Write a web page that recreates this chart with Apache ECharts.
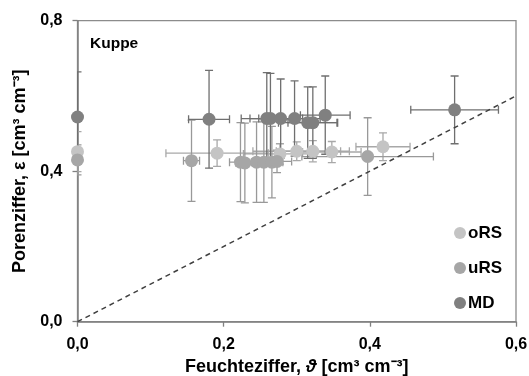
<!DOCTYPE html>
<html>
<head>
<meta charset="utf-8">
<script src="https://cdn.jsdelivr.net/npm/echarts@6/dist/echarts.min.js"></script>
<style>
  html, body { margin: 0; padding: 0; background: #fff; }
  #chart { width: 529px; height: 376px; }
</style>
</head>
<body>
<div id="chart"></div>
<script>
// oRS
var orsX = [0, 0.191, 0.277, 0.300, 0.322, 0.348, 0.418]
var orsY = [0.452, 0.448, 0.446, 0.453, 0.453, 0.451, 0.465]
var orsXErr = [0, 0.07, 0.05, 0.06, 0.05, 0.04, 0.037]
var orsYErr = [0.053, 0.035, 0.027, 0.025, 0.028, 0.028, 0.037]

// uRS
var ursX = [0, 0.156, 0.223, 0.229, 0.245, 0.255, 0.266, 0.273, 0.397]
var ursY = [0.430, 0.428, 0.424, 0.422, 0.424, 0.424, 0.424, 0.426, 0.439]
var ursXErr = [0, 0.011, 0.015, 0.012, 0.015, 0.012, 0.015, 0.02, 0.09]
var ursYErr = [0.04, 0.108, 0.105, 0.106, 0.107, 0.107, 0.095, 0.03, 0.103]

// MD
var mdX = [0, 0.180, 0.259, 0.264, 0.278, 0.297, 0.315, 0.322, 0.339, 0.516]
var mdY = [0.544, 0.538, 0.540, 0.540, 0.540, 0.540, 0.529, 0.529, 0.549, 0.563]
var mdXErr = [0, 0.028, 0.023, 0.04, 0.03, 0.035, 0.04, 0.034, 0.034, 0.06]
var mdYErr = [0.12, 0.13, 0.122, 0.12, 0.105, 0.10, 0.095, 0.095, 0.104, 0.09]

var xTicks = [0, 0.2, 0.4, 0.6]
var yTicks = [0, 0.4, 0.8]
var oneToOne = [[0, 0], [0.6, 0.6]]

var font = "'Liberation Sans', Arial, sans-serif"
var fmt = function (v) { return v.toFixed(1).replace('.', ',') }

var rows = function (xs, ys, xe, ye) {
  return xs.map(function (x, i) { return [x, ys[i], xe[i], ye[i]] })
}

// Fehlerbalken als custom series
var errSeries = function (name, data, color) {
  return {
    name: name,
    type: 'custom',
    clip: true,
    z: 1,
    encode: { x: 0, y: 1 },
    data: data,
    renderItem: function (params, api) {
      var x = api.value(0), y = api.value(1), dx = api.value(2), dy = api.value(3)
      var l = api.coord([x - dx, y]), r = api.coord([x + dx, y])
      var t = api.coord([x, y + dy]), b = api.coord([x, y - dy])
      var c = 4
      var st = { stroke: color, lineWidth: 1.3 }
      var kids = []
      if (dx > 0) {
        kids.push({ type: 'line', shape: { x1: l[0], y1: l[1], x2: r[0], y2: r[1] }, style: st })
        kids.push({ type: 'line', shape: { x1: l[0], y1: l[1] - c, x2: l[0], y2: l[1] + c }, style: st })
        kids.push({ type: 'line', shape: { x1: r[0], y1: r[1] - c, x2: r[0], y2: r[1] + c }, style: st })
      }
      if (dy > 0) {
        kids.push({ type: 'line', shape: { x1: t[0], y1: t[1], x2: b[0], y2: b[1] }, style: st })
        kids.push({ type: 'line', shape: { x1: t[0] - c, y1: t[1], x2: t[0] + c, y2: t[1] }, style: st })
        kids.push({ type: 'line', shape: { x1: b[0] - c, y1: b[1], x2: b[0] + c, y2: b[1] }, style: st })
      }
      return { type: 'group', children: kids }
    }
  }
}

var pts = function (name, xs, ys, color) {
  return {
    name: name,
    type: 'scatter',
    symbol: 'circle',
    symbolSize: 13,
    z: 3,
    itemStyle: { color: color, opacity: 1 },
    data: xs.map(function (x, i) { return [x, ys[i]] })
  }
}

var chart = echarts.init(document.getElementById('chart'))

chart.setOption({
  animation: false,
  textStyle: { fontFamily: font },
  title: {
    text: 'Kuppe',
    left: 85,
    top: 31,
    textStyle: { fontFamily: font, fontSize: 15.5, fontWeight: 'bold', color: '#000' }
  },
  legend: {
    data: ['oRS', 'uRS', 'MD'],
    orient: 'vertical',
    left: 449,
    top: 219,
    icon: 'circle',
    itemWidth: 12,
    itemHeight: 12,
    itemGap: 17,
    textStyle: { fontFamily: font, fontSize: 17, fontWeight: 'bold', color: '#000', lineHeight: 18, padding: [0, 0, 0, -3] }
  },
  grid: {
    left: 77.5,
    right: 13,
    top: 20.7,
    bottom: 54.3,
    outerBoundsMode: 'none',
    containLabel: false,
    show: true,
    borderColor: '#8c8c8c',
    borderWidth: 1.3
  },
  xAxis: {
    type: 'value',
    min: 0,
    max: 0.6,
    interval: 0.2,
    name: '{b|Feuchteziffer, }{i|ϑ}{b| [cm³ cm⁻³]}',
    nameLocation: 'middle',
    nameGap: 30,
    nameTextStyle: {
      rich: {
        b: { fontFamily: font, fontSize: 18, fontWeight: 'bold', color: '#000' },
        i: { fontFamily: font, fontSize: 18, fontWeight: 'bold', fontStyle: 'italic', color: '#000' }
      }
    },
    axisLine: { lineStyle: { color: '#808080', width: 1.5 } },
    axisTick: { inside: false, length: 5, lineStyle: { color: '#808080', width: 1.3 } },
    axisLabel: {
      margin: 15,
      fontFamily: font, fontSize: 16, fontWeight: 'bold', color: '#000',
      formatter: function (v) { return xTicks.indexOf(+v.toFixed(1)) >= 0 ? fmt(v) : '' }
    },
    splitLine: { show: false }
  },
  yAxis: {
    type: 'value',
    min: 0,
    max: 0.8,
    interval: 0.4,
    name: '{b|Porenziffer, ε [cm³ cm⁻³]}',
    nameLocation: 'middle',
    nameGap: 44,
    nameTextStyle: {
      rich: {
        b: { fontFamily: font, fontSize: 18, fontWeight: 'bold', color: '#000' }
      }
    },
    axisLine: { lineStyle: { color: '#808080', width: 1.5 } },
    axisTick: { inside: false, length: 5, lineStyle: { color: '#808080', width: 1.3 } },
    axisLabel: {
      margin: 15,
      fontFamily: font, fontSize: 16, fontWeight: 'bold', color: '#000',
      formatter: function (v) { return yTicks.indexOf(+v.toFixed(1)) >= 0 ? fmt(v) : '' }
    },
    splitLine: { show: false }
  },
  series: [
    {
      name: '1:1',
      type: 'line',
      data: oneToOne,
      symbol: 'none',
      z: 2,
      lineStyle: { color: '#404040', width: 1.5, type: [5, 4] }
    },
    errSeries('oRS-err', rows(orsX, orsY, orsXErr, orsYErr), '#a8a8a8'),
    errSeries('uRS-err', rows(ursX, ursY, ursXErr, ursYErr), '#999999'),
    errSeries('MD-err', rows(mdX, mdY, mdXErr, mdYErr), '#6f6f6f'),
    pts('oRS', orsX, orsY, '#c4c4c4'),
    pts('uRS', ursX, ursY, '#a6a6a6'),
    pts('MD', mdX, mdY, '#808080')
  ]
})
</script>
</body>
</html>
